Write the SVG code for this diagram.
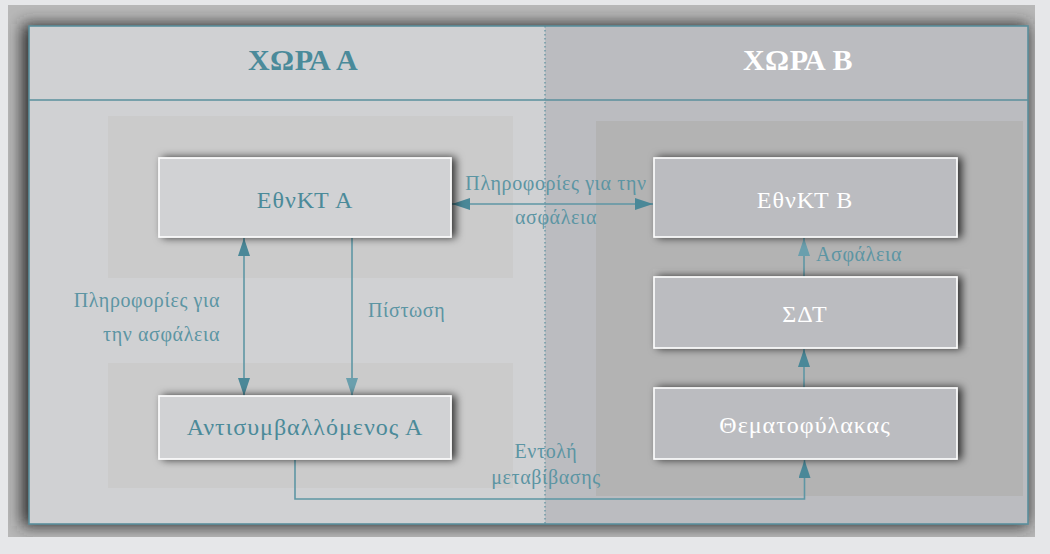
<svg xmlns="http://www.w3.org/2000/svg" width="1050" height="554" viewBox="0 0 1050 554">
<style>
.node{stroke:#ffffff;stroke-width:1.6;filter:url(#nsh)}
.nA{fill:#d1d2d4}
.nB{fill:#bbbcc0}
.tA{font-family:"Liberation Serif","DejaVu Serif",serif;font-size:24px;fill:#4b8a99;text-anchor:middle;letter-spacing:1px}
.tB{font-family:"Liberation Serif","DejaVu Serif",serif;font-size:24px;fill:#ffffff;text-anchor:middle;letter-spacing:1px}
.hd{font-family:"Liberation Serif","DejaVu Serif",serif;font-size:30px;font-weight:bold;text-anchor:middle;letter-spacing:0.5px}
.lbl{font-family:"Liberation Serif","DejaVu Serif",serif;font-size:20px;fill:#5c95a3;letter-spacing:0.6px}
.ln{fill:none;stroke:#5e96a4;stroke-width:1.6}
</style>
<defs>
<filter id="nsh" x="-20%" y="-30%" width="140%" height="160%">
<feDropShadow dx="4" dy="0" stdDeviation="4" flood-color="#000" flood-opacity="0.75"/>
</filter>
<filter id="fsh" x="-10%" y="-10%" width="120%" height="120%">
<feGaussianBlur stdDeviation="8"/>
</filter>
<clipPath id="outer"><rect x="8" y="5" width="1027" height="532"/></clipPath>
<marker id="ah" viewBox="0 0 18 12" refX="18" refY="6" markerWidth="18" markerHeight="12" markerUnits="userSpaceOnUse" orient="auto-start-reverse">
<path d="M0,0 L18,6 L0,12 Z" fill="#4a8898"/>
</marker>
<marker id="ahl" viewBox="0 0 18 12" refX="18" refY="6" markerWidth="18" markerHeight="12" markerUnits="userSpaceOnUse" orient="auto-start-reverse">
<path d="M0,0 L18,6 L0,12 Z" fill="#6a9fad"/>
</marker>
</defs>
<rect x="0" y="0" width="1050" height="554" fill="#e6e7e9"/>
<g id="frame-shadow" clip-path="url(#outer)">
<rect x="8" y="5" width="1027" height="532" fill="#b8b8b8"/>
<rect x="22" y="24" width="1006" height="502" fill="#2a2a2a" filter="url(#fsh)"/>
</g>
<g id="frame">
<rect x="29" y="26" width="516" height="498" fill="#d0d1d3"/>
<rect x="545" y="26" width="483" height="498" fill="#bbbcc0"/>
<rect x="29" y="26" width="999" height="498" fill="none" stroke="#5a8f9d" stroke-width="1.6"/>
<line x1="29" y1="100" x2="1028" y2="100" stroke="#5a8f9d" stroke-width="1.6"/>
<line x1="545" y1="26" x2="545" y2="524" stroke="#5a8f9d" stroke-width="1.2" stroke-dasharray="1.5,2.5"/>
<text class="hd" x="303" y="70" fill="#4a8a9a">ΧΩΡΑ Α</text>
<text class="hd" x="798" y="70" fill="#ffffff">ΧΩΡΑ Β</text>
</g>
<g id="lanes">
<rect x="108" y="116" width="405" height="162" fill="#cbcbcb"/>
<rect x="108" y="363" width="405" height="125" fill="#cbcbcb"/>
<rect x="596" y="121" width="427" height="375" fill="#b3b3b3"/>
<rect x="653" y="269" width="317" height="78" fill="#b6b6b6"/>
</g>
<g id="connectors">
<line class="ln" x1="452" y1="204" x2="653" y2="204" marker-start="url(#ah)" marker-end="url(#ah)"/>
<line class="ln" x1="244" y1="238" x2="244" y2="396" marker-start="url(#ah)" marker-end="url(#ah)"/>
<line class="ln" x1="352" y1="238" x2="352" y2="396" marker-end="url(#ahl)"/>
<line class="ln" x1="804" y1="277" x2="804" y2="238" marker-end="url(#ahl)"/>
<line class="ln" x1="804" y1="388" x2="804" y2="349" marker-end="url(#ah)"/>
<path class="ln" d="M295,460 V499 H804.5 V460" marker-end="url(#ah)"/>
<text class="lbl" x="556" y="190" text-anchor="middle">Πληροφορίες για την</text>
<text class="lbl" x="556" y="224" text-anchor="middle">ασφάλεια</text>
<text class="lbl" x="220" y="307" text-anchor="end">Πληροφορίες για</text>
<text class="lbl" x="220" y="341" text-anchor="end">την ασφάλεια</text>
<text class="lbl" x="368" y="317">Πίστωση</text>
<text class="lbl" x="816" y="261">Ασφάλεια</text>
<text class="lbl" x="546" y="458" text-anchor="middle" font-size="17">Εντολή</text>
<text class="lbl" x="546" y="484" text-anchor="middle" font-size="17" letter-spacing="1">μεταβίβασης</text>
</g>
<g id="node-ethnkt-a">
<rect class="node nA" x="159" y="158" width="292" height="79"/>
<text class="tA" x="305" y="208" letter-spacing="1.6">ΕθνΚΤ Α</text>
</g>
<g id="node-antisymvallomenos-a">
<rect class="node nA" x="159" y="396" width="292" height="63"/>
<text class="tA" x="305" y="435">Αντισυμβαλλόμενος Α</text>
</g>
<g id="node-ethnkt-b">
<rect class="node nB" x="654" y="158" width="303" height="79"/>
<text class="tB" x="805" y="208" letter-spacing="1.6">ΕθνΚΤ Β</text>
</g>
<g id="node-sdt">
<rect class="node nB" x="654" y="277" width="303" height="71"/>
<text class="tB" x="805" y="322" letter-spacing="1.6">ΣΔΤ</text>
</g>
<g id="node-thematofylakas">
<rect class="node nB" x="654" y="388" width="303" height="71"/>
<text class="tB" x="805" y="433">Θεματοφύλακας</text>
</g>
</svg>
